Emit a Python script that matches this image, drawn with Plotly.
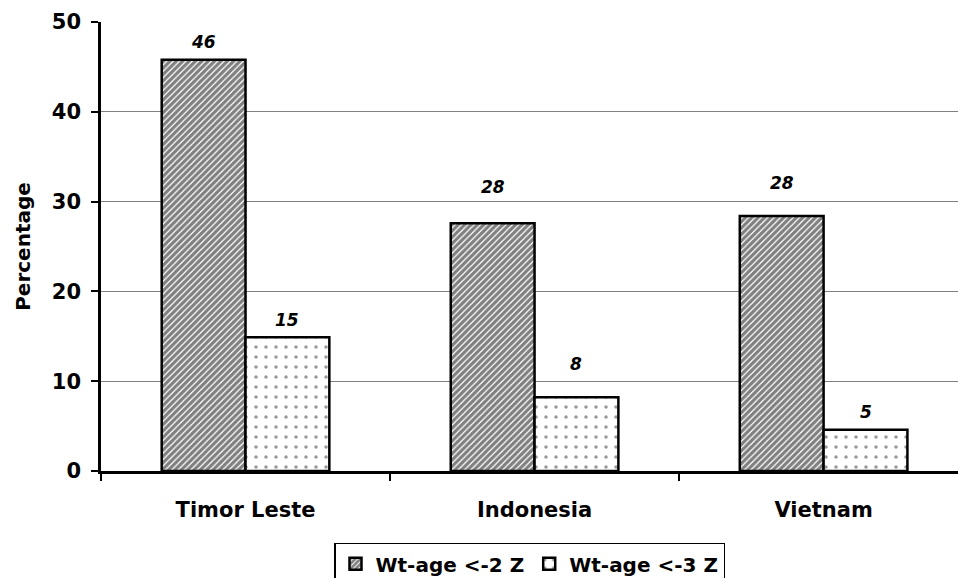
import plotly.graph_objects as go

# Underweight prevalence (weight-for-age) by country
countries = ["Timor Leste", "Indonesia", "Vietnam"]
below_2z = [45.8, 27.6, 28.4]
below_3z = [14.9, 8.2, 4.6]
series_names = ["Wt-age <-2 Z", "Wt-age <-3 Z"]
y_ticks = [0, 10, 20, 30, 40, 50]

# vertical lift (px) of each value label above its bar
label_lift = [[18, 17], [36, 33], [33, 18]]

FONT = "DejaVu Sans"
BARGAP = 0.42

fig = go.Figure()
fig.add_trace(go.Bar(
    x=countries, y=below_2z, name=series_names[0],
    marker=dict(color="white", line=dict(color="black", width=2.5),
                pattern=dict(shape="/", fgcolor="black", bgcolor="white",
                             size=4.5, solidity=0.72)),
))
fig.add_trace(go.Bar(
    x=countries, y=below_3z, name=series_names[1],
    marker=dict(color="white", line=dict(color="black", width=2.5),
                pattern=dict(shape=".", fgcolor="#333333", bgcolor="white",
                             size=10, solidity=0.1)),
))

# value labels, rounded to whole percent
half = (1 - BARGAP) / 4
annotations = []
for i in range(len(countries)):
    for j, vals in enumerate([below_2z, below_3z]):
        annotations.append(dict(
            x=i + (-half if j == 0 else half), y=vals[i], xref="x", yref="y",
            text=f"<b><i>{vals[i]:.0f}</i></b>", showarrow=False,
            yanchor="middle", yshift=label_lift[i][j],
            font=dict(family=FONT, size=17, color="black"),
        ))

bold = dict(family=FONT, color="black", weight="bold")

fig.update_layout(
    width=958, height=578,
    margin=dict(l=101, r=0, t=22, b=107, autoexpand=False),
    paper_bgcolor="white", plot_bgcolor="white",
    barmode="group", bargap=BARGAP, bargroupgap=0,
    font=dict(family=FONT, color="black"),
    annotations=annotations,
    showlegend=True,
    legend=dict(
        orientation="h", x=0.5, xanchor="center",
        y=-0.16, yanchor="top",
        bordercolor="black", borderwidth=1.5, bgcolor="white",
        font=dict(size=20, **bold),
        itemwidth=30, traceorder="normal",
    ),
    xaxis=dict(
        range=[-0.5, 2.465], showline=True, linecolor="black", linewidth=2.5,
        ticks="outside", tickson="boundaries", ticklen=7, tickwidth=1.5,
        tickcolor="black", showgrid=False, ticklabelstandoff=18,
        tickfont=dict(size=21, **bold), automargin=False,
    ),
    yaxis=dict(
        range=[0, 50], tickvals=y_ticks, showline=True, linecolor="black",
        linewidth=2.5, ticks="outside", ticklen=7, tickwidth=1.5,
        tickcolor="black", showgrid=True, gridcolor="#808080", gridwidth=1,
        zeroline=False, ticklabelstandoff=6, automargin=False,
        tickfont=dict(size=21, **bold),
        title=dict(text="<b>Percentage</b>", standoff=16,
                   font=dict(family=FONT, size=20, color="black")),
    ),
)
fig.write_html("out.html")
